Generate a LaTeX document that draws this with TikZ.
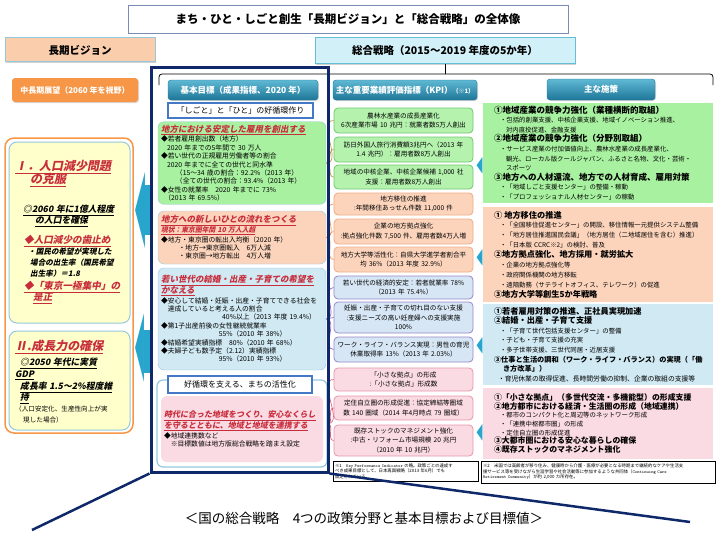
\documentclass[tikz,border=0pt]{standalone}
\usepackage{fontspec}
\setmainfont{Noto Sans CJK JP}
\newfontfamily\jpsl{Noto Sans CJK JP}[FakeSlant=0.2]
\newfontfamily\arrowglyphfont{DejaVu Sans}
\usepackage{tikz}
\usetikzlibrary{positioning, shadows}
\definecolor{navyblue}{RGB}{14,40,105}
\definecolor{titleline}{RGB}{120,140,180}
\definecolor{visionbg}{RGB}{250,206,172}
\definecolor{strategybg}{RGB}{210,240,248}
\definecolor{strategyline}{RGB}{100,190,215}
\definecolor{orangebtn}{RGB}{247,150,70}
\definecolor{yellowbg}{RGB}{255,255,204}
\definecolor{paleline}{RGB}{150,200,220}
\definecolor{tealtop}{RGB}{95,185,212}
\definecolor{tealbot}{RGB}{30,118,152}
\definecolor{subline}{RGB}{70,120,200}
\definecolor{greenbg}{RGB}{168,241,160}
\definecolor{peachbg}{RGB}{252,212,188}
\definecolor{bluebg}{RGB}{208,233,243}
\definecolor{pinkbg}{RGB}{251,219,227}
\definecolor{kpigreen}{RGB}{180,242,174}
\definecolor{kpigreenline}{RGB}{110,200,110}
\definecolor{kpipeachline}{RGB}{240,170,130}
\definecolor{kpiblue}{RGB}{214,230,244}
\definecolor{kpiblueline}{RGB}{150,135,200}
\definecolor{kpipinkline}{RGB}{230,150,170}
\definecolor{headred}{RGB}{200,45,60}
\definecolor{arrowteal}{RGB}{40,165,205}
\definecolor{fangreen}{RGB}{190,160,70}
\definecolor{fanpeach}{RGB}{240,150,90}
\definecolor{fanblue}{RGB}{140,110,190}
\definecolor{fanpink}{RGB}{225,95,125}
\newcommand{\redhead}[1]{\textcolor{headred}{\jpsl\bfseries\underline{#1}}}
\newcommand{\blackul}[1]{{\jpsl\bfseries\underline{#1}}}
\tikzset{
  titlebox/.style={rectangle, draw=titleline, fill=white, line width=0.8pt,
                   minimum width=440pt, minimum height=28pt,
                   font=\fontsize{11.5}{13}\selectfont\bfseries},
  visionbox/.style={rectangle, draw=paleline, fill=#1, line width=1pt,
                    font=\fontsize{10.5}{12}\selectfont\bfseries,
                    drop shadow={shadow xshift=1.2pt, shadow yshift=-1.2pt, fill=black!35}},
  tealbtn/.style={rectangle, rounded corners=3pt, draw=tealbot, top color=tealtop,
                  bottom color=tealbot, text=white, inner sep=1pt,
                  font=\fontsize{8.5}{10}\selectfont\bfseries,
                  drop shadow={shadow xshift=1pt, shadow yshift=-1pt, fill=black!30}},
  subbox/.style={rectangle, draw=subline, fill=white, line width=1.2pt,
                 font=\fontsize{8}{10}\selectfont, inner sep=1pt},
  yellowbox/.style={rectangle, rounded corners=8pt, draw=paleline, fill=yellowbg,
                    line width=1pt, minimum width=121pt},
  leftnote/.style={align=left, text width=113pt, inner sep=0pt, anchor=north west,
                   font=\fontsize{8}{11}\selectfont},
  areabox/.style={rectangle, rounded corners=6pt, draw=paleline, fill=#1,
                  align=left, inner sep=3pt, font=\fontsize{6.8}{8.4}\selectfont},
  kpibox/.style={rectangle, rounded corners=4pt, draw=#1, line width=0.8pt,
                 align=center, inner sep=1pt, minimum width=139pt, text width=135pt,
                 font=\fontsize{6.6}{9.4}\selectfont},
  measurebox/.style={rectangle, fill=#1, align=left, inner xsep=11pt, inner ysep=1pt,
                     text width=208pt, font=\fontsize{6.4}{9.6}\selectfont},
  notebox/.style={rectangle, draw=black, fill=white, line width=0.8pt, align=left,
                  inner sep=2pt, font=\fontsize{4.4}{5.6}\selectfont,
                  drop shadow={shadow xshift=1.2pt, shadow yshift=-1.2pt, fill=black!40}},
  pointerhead/.style={text=arrowteal, inner sep=0pt, font=\arrowglyphfont},
  pointerbody/.style={rectangle, fill=arrowteal, inner sep=0pt},
  fanline/.style={draw=#1, line width=0.7pt},
  navyframe/.style={rectangle, draw=navyblue, line width=3pt},
  tailline/.style={draw=navyblue, line width=2.5pt},
  bracketline/.style={draw=black, line width=0.8pt},
}

\begin{document}
\begin{tikzpicture}[x=1pt, y=-1pt]
  \useasboundingbox (0,0) rectangle (720,535);

  % header
  \node[titlebox] (title) at (348,19) {まち・ひと・しごと創生「長期ビジョン」と「総合戦略」の全体像};
  \node[visionbox=visionbg, minimum width=150pt, minimum height=24pt] (vision) at (80,50) {長期ビジョン};
  \node[visionbox=strategybg, draw=strategyline, minimum width=260pt, minimum height=26pt] (strategy)
    at (445,51) {総合戦略（2015〜2019 年度の5か年）};
  \coordinate (brL) at (159,85);
  \coordinate (brR) at (713,85);
  \draw[bracketline] (strategy.south) -- ++(0,10);
  \draw[bracketline, rounded corners=3pt] (brL) -- (159,74) -- (713,74) -- (brR);

  % long-term vision
  \node[rectangle, rounded corners=3pt, fill=orangebtn, text=white, minimum width=126pt,
        minimum height=24pt, font=\fontsize{8}{10}\selectfont\bfseries,
        drop shadow={shadow xshift=1pt, shadow yshift=-1pt, fill=black!30}] (midterm)
    at (75,90) {中長期展望（2060 年を視野）};
  \node[rectangle, rounded corners=9pt, draw=orangebtn, line width=1.5pt, fill=white,
        minimum width=128pt, minimum height=295pt] (visionframe) at (69,285.5) {};
  \node[yellowbox, minimum height=181pt] (overcome) at (69.5,232.5) {};
  \node[yellowbox, minimum height=99pt] (growth) at (69.5,380.5) {};
  \node[leftnote] (overcometext) at (13,160) {\lineskiplimit=-20pt\lineskip=0pt\relax
    \hspace*{2pt}{\fontsize{12}{13}\selectfont\redhead{Ⅰ．人口減少問題}}\\[2pt]
    \hspace*{17pt}{\fontsize{12}{13}\selectfont\redhead{の克服}}\\[18pt]
    \hspace*{10pt}{\fontsize{8.8}{10}\selectfont\blackul{◎2060 年に1億人程度}}\\
    \hspace*{22pt}{\fontsize{8.8}{10}\selectfont\blackul{の人口を確保}}\\[9pt]
    \hspace*{11pt}{\fontsize{9.6}{10}\selectfont\redhead{◆人口減少の歯止め}}\\
    \hspace*{15pt}{\fontsize{7.6}{10}\selectfont\jpsl\bfseries ・国民の希望が実現した}\\
    \hspace*{17pt}{\fontsize{7.6}{10}\selectfont\jpsl\bfseries 場合の出生率（国民希望}\\
    \hspace*{17pt}{\fontsize{7.6}{10}\selectfont\jpsl\bfseries 出生率）＝1.8}\\[2pt]
    \hspace*{11pt}{\fontsize{9.6}{10}\selectfont\redhead{◆「東京一極集中」の}}\\
    \hspace*{20pt}{\fontsize{9.6}{10}\selectfont\redhead{是正}}};
  \node[leftnote] (growthtext) at (13,340) {\lineskiplimit=-20pt\lineskip=0pt\relax
    \hspace*{2pt}{\fontsize{12}{13}\selectfont\redhead{Ⅱ.成長力の確保}}\\[4pt]
    \hspace*{7pt}{\fontsize{8.8}{10}\selectfont\blackul{◎2050 年代に実質}}\\[1pt]
    \hspace*{2pt}{\fontsize{8.8}{10}\selectfont\blackul{GDP}}\\[1pt]
    \hspace*{7pt}{\fontsize{8.8}{10}\selectfont\blackul{成長率 1.5〜2\%程度維}}\\
    \hspace*{7pt}{\fontsize{8.8}{10}\selectfont\blackul{持}}\\
    \hspace*{2pt}{\fontsize{6.6}{10}\selectfont （人口安定化、生産性向上が実}\\
    \hspace*{10pt}{\fontsize{6.6}{10}\selectfont 現した場合）}};

  % basic goals
  \node[tealbtn, minimum width=150pt, minimum height=20pt] (goalbtn) at (243,90) {基本目標（成果指標、2020 年）};
  \node[subbox, minimum width=145pt, minimum height=15pt] (cycle) at (240.5,110.5) {「しごと」と「ひと」の好循環作り};
  \node[areabox=greenbg, minimum width=168pt, minimum height=82pt, text width=162pt] (c2green) at (242,163) {%
    {\fontsize{8.5}{10}\selectfont\redhead{地方における安定した雇用を創出する}}\\
    ◆若者雇用創出数（地方）\\
    \hspace*{0.9em}2020 年までの5年間で 30 万人\\
    ◆若い世代の正規雇用労働者等の割合\\
    \hspace*{0.9em}2020 年までに全ての世代と同水準\\
    \hspace*{2.2em}（15〜34 歳の割合：92.2\%（2013 年）\\
    \hspace*{2.2em}（全ての世代の割合：93.4\%（2013 年）\\
    ◆女性の就業率　2020 年までに 73\%\\
    \hspace*{0.5em}（2013 年 69.5\%）};
  \node[areabox=peachbg, minimum width=168pt, minimum height=53pt, text width=162pt] (c2peach) at (242,237.5) {%
    {\fontsize{8.5}{10}\selectfont\redhead{地方への新しいひとの流れをつくる}}\\
    \textcolor{headred}{\jpsl\bfseries\underline{現状：東京圏年間 10 万人入超}}\\
    ◆地方・東京圏の転出入均衡（2020 年）\\
    \hspace*{2.6em}・地方→東京圏転入　6万人減\\
    \hspace*{2.6em}・東京圏→地方転出　4万人増};
  \node[areabox=bluebg, minimum width=168pt, minimum height=102pt, text width=162pt] (c2blue) at (242,319) {%
    {\fontsize{8.5}{10}\selectfont\redhead{若い世代の結婚・出産・子育ての希望を}}\\
    {\fontsize{8.5}{10}\selectfont\redhead{かなえる}}\\
    ◆安心して結婚・妊娠・出産・子育てできる社会を\\
    \hspace*{1em}達成していると考える人の割合\\
    \hspace*{9em}40\%以上（2013 年度 19.4\%）\\
    ◆第1子出産前後の女性継続就業率\\
    \hspace*{8.5em}55\%（2010 年 38\%）\\
    ◆結婚希望実績指標　80\%（2010 年 68\%）\\
    ◆夫婦子ども数予定（2.12）実績指標\\
    \hspace*{8.5em}95\%（2010 年 93\%）};
  \node[rectangle, rounded corners=6pt, draw=paleline, line width=1.2pt, fill=white,
        minimum width=170pt, minimum height=87pt] (cityframe) at (242,423.5) {};
  \node[areabox=pinkbg, draw=none, minimum width=162pt, minimum height=66pt, text width=156pt] (c2pink) at (242,429) {%
    {\fontsize{8}{10}\selectfont\redhead{時代に合った地域をつくり、安心なくらし}}\\
    {\fontsize{8}{10}\selectfont\redhead{を守るとともに、地域と地域を連携する}}\\
    ◆地域連携数など\\
    \hspace*{1em}※目標数値は地方版総合戦略を踏まえ設定};
  \node[subbox, minimum width=144pt, minimum height=17pt] (citytitle) at (240,384.5) {好循環を支える、まちの活性化};

  % KPI
  \node[tealbtn, minimum width=144pt, minimum height=20pt] (kpibtn) at (405,90)
    {主な重要業績評価指標（KPI）{\fontsize{6}{7}\selectfont（※1）}};
  \node[kpibox=kpigreenline, fill=kpigreen, minimum height=25pt] (kpiG1) at (403.5,120.5)
    {農林水産業の成長産業化\\6次産業市場 10 兆円：就業者数5万人創出};
  \node[kpibox=kpigreenline, fill=kpigreen, minimum height=25pt] (kpiG2) at (403.5,149.5)
    {訪日外国人旅行消費額3兆円へ（2013 年\\1.4 兆円）：雇用者数8万人創出};
  \node[kpibox=kpigreenline, fill=kpigreen, minimum height=24pt] (kpiG3) at (403.5,177)
    {地域の中核企業、中核企業候補 1,000 社\\支援：雇用者数8万人創出};
  \node[kpibox=kpipeachline, fill=peachbg, minimum height=22pt] (kpiP1) at (403.5,204)
    {地方移住の推進\\:年間移住あっせん件数 11,000 件};
  \node[kpibox=kpipeachline, fill=peachbg, minimum height=25pt] (kpiP2) at (403.5,231.5)
    {企業の地方拠点強化\\:拠点強化件数 7,500 件、雇用者数4万人増};
  \node[kpibox=kpipeachline, fill=peachbg, minimum height=25pt] (kpiP3) at (403.5,259.5)
    {地方大学等活性化：自県大学進学者割合平\\均 36\%（2013 年度 32.9\%）};
  \node[kpibox=kpiblueline, fill=kpiblue, minimum height=23pt] (kpiB1) at (403.5,287.5)
    {若い世代の経済的安定：若者就業率 78\%\\（2013 年 75.4\%）};
  \node[kpibox=kpiblueline, fill=kpiblue, minimum height=31pt] (kpiB2) at (403.5,317.5)
    {妊娠・出産・子育ての切れ目のない支援\\:支援ニーズの高い妊産婦への支援実施\\100\%};
  \node[kpibox=kpiblueline, fill=kpiblue, minimum height=25pt] (kpiB3) at (403.5,349.5)
    {ワーク・ライフ・バランス実現：男性の育児\\休業取得率 13\%（2013 年 2.03\%）};
  \node[kpibox=kpipinkline, fill=pinkbg, minimum height=23pt] (kpiK1) at (403.5,379.5)
    {「小さな拠点」の形成\\:「小さな拠点」形成数};
  \node[kpibox=kpipinkline, fill=pinkbg, minimum height=24pt] (kpiK2) at (403.5,408)
    {定住自立圏の形成促進：協定締結等圏域\\数 140 圏域（2014 年4月時点 79 圏域）};
  \node[kpibox=kpipinkline, fill=pinkbg, minimum height=31pt] (kpiK3) at (403.5,440.5)
    {既存ストックのマネジメント強化\\:中古・リフォーム市場規模 20 兆円\\（2010 年 10 兆円）};
  \node[notebox, minimum width=145pt, minimum height=20pt, text width=141pt] (note1) at (405.5,471)
    {※1　{\ttfamily Key Performance Indicator} の略。政策ごとの達成す\\べき成果目標として、日本再興戦略（2013 年6月）でも\\設定されている。};
  \foreach \k in {kpiG1,kpiG2,kpiG3} \draw[fanline=fangreen] (c2green.east) to[out=0, in=180] (\k.west);
  \foreach \k in {kpiP1,kpiP2,kpiP3} \draw[fanline=fanpeach] (c2peach.east) to[out=0, in=180] (\k.west);
  \foreach \k in {kpiB1,kpiB2,kpiB3} \draw[fanline=fanblue] (c2blue.east) to[out=0, in=180] (\k.west);
  \foreach \k in {kpiK1,kpiK2,kpiK3} \draw[fanline=fanpink] (cityframe.east) to[out=0, in=180] (\k.west);

  % main measures
  \node[tealbtn, minimum width=108pt, minimum height=21pt] (measurebtn) at (601,89.5) {主な施策};
  \node[measurebox=greenbg, minimum height=100pt] (mgreen) at (598,153) {%
    {\fontsize{8.5}{10}\selectfont\bfseries ①地域産業の競争力強化（業種横断的取組）}\\
    \hspace*{6pt}・包括的創業支援、中核企業支援、地域イノベーション推進、\\
    \hspace*{12pt}対内直投促進、金融支援\\
    {\fontsize{8.5}{10}\selectfont\bfseries ②地域産業の競争力強化（分野別取組）}\\
    \hspace*{6pt}・サービス産業の付加価値向上、農林水産業の成長産業化、\\
    \hspace*{12pt}観光、ローカル版クールジャパン、ふるさと名物、文化・芸術・\\
    \hspace*{12pt}スポーツ\\
    {\fontsize{8.5}{10}\selectfont\bfseries ③地方への人材還流、地方での人材育成、雇用対策}\\
    \hspace*{6pt}・「地域しごと支援センター」の整備・稼動\\
    \hspace*{6pt}・「プロフェッショナル人材センター」の稼動};
  \node[measurebox=peachbg, minimum height=95pt, font=\fontsize{6.4}{9.9}\selectfont] (mpeach) at (598,254.5) {%
    {\fontsize{8.2}{10}\selectfont\bfseries ① 地方移住の推進}\\
    \hspace*{6pt}・「全国移住促進センター」の開設、移住情報一元提供システム整備\\
    \hspace*{6pt}・「地方居住推進国民会議」（地方居住（二地域居住を含む）推進）\\
    \hspace*{6pt}・「日本版 CCRC※2」の検討、普及\\
    {\fontsize{8.2}{10}\selectfont\bfseries ②地方拠点強化、地方採用・就労拡大}\\
    \hspace*{6pt}・企業の地方拠点強化等\\
    \hspace*{6pt}・政府関係機関の地方移転\\
    \hspace*{6pt}・遠隔勤務（サテライトオフィス、テレワーク）の促進\\
    {\fontsize{8.2}{10}\selectfont\bfseries ③地方大学等創生5か年戦略}};
  \node[measurebox=bluebg, minimum height=81pt, font=\fontsize{6.4}{9.6}\selectfont] (mblue) at (598,344.5) {%
    {\fontsize{8.2}{10}\selectfont\bfseries ①若者雇用対策の推進、正社員実現加速}\\
    {\fontsize{8.2}{10}\selectfont\bfseries ②結婚・出産・子育て支援}\\
    \hspace*{6pt}・「子育て世代包括支援センター」の整備\\
    \hspace*{6pt}・子ども・子育て支援の充実\\
    \hspace*{6pt}・多子世帯支援、三世代同居・近居支援\\
    {\fontsize{7.2}{10}\selectfont\bfseries ③仕事と生活の調和（ワーク・ライフ・バランス）の実現（「働}\\
    \hspace*{9pt}{\fontsize{7.2}{10}\selectfont\bfseries き方改革」）}\\
    \hspace*{4pt}{\fontsize{6.8}{10}\selectfont ・育児休業の取得促進、長時間労働の抑制、企業の取組の支援等}};
  \node[measurebox=pinkbg, minimum height=71pt, font=\fontsize{6.4}{8.6}\selectfont] (mpink) at (598,423.5) {%
    {\fontsize{7.9}{9}\selectfont\bfseries ①「小さな拠点」（多世代交流・多機能型）の形成支援}\\
    {\fontsize{7.9}{9}\selectfont\bfseries ②地方都市における経済・生活圏の形成（地域連携）}\\
    \hspace*{6pt}・都市のコンパクト化と周辺等のネットワーク形成\\
    \hspace*{6pt}・「連携中枢都市圏」の形成\\
    \hspace*{6pt}・定住自立圏の形成促進\\
    {\fontsize{7.9}{9}\selectfont\bfseries ③大都市圏における安心な暮らしの確保}\\
    {\fontsize{7.9}{9}\selectfont\bfseries ④既存ストックのマネジメント強化}};
  \node[notebox, minimum width=234pt, minimum height=22pt, text width=230pt] (note2) at (598,472)
    {※2　米国では高齢者が移り住み、健康時から介護・医療が必要となる時期まで継続的なケアや生活支\\
     援サービス等を受けながら生涯学習や社会活動等に参加するような共同体（{\ttfamily Continuing Care}\\
     {\ttfamily Retirement Community}）が約 2,000 カ所存在。};

  % arrows towards the vision and the KPI
  \node[pointerbody, minimum width=8pt, minimum height=50pt] (jobbody) at (147.5,210) {};
  \node[pointerbody, minimum width=8pt, minimum height=43pt] (citybody) at (147.5,351.5) {};
  \node[pointerhead] (jobhead) at (140,211) {\scalebox{0.13}[1]{\fontsize{100}{100}\selectfont ◀}};
  \node[pointerhead] (cityhead) at (140,348.5) {\scalebox{0.13}[1]{\fontsize{90}{90}\selectfont ◀}};
  \foreach \yy [count=\i] in {166,258,346,433}
    \node[pointerhead] (kpihead\i) at (479.5,\yy) {\scalebox{0.35}[1]{\fontsize{22}{22}\selectfont ◀}};
  \node[navyframe, minimum width=177pt, minimum height=404pt] (goalframe) at (239.5,270) {};

  % zoom lines and caption
  \coordinate (tailL) at (32,530);
  \coordinate (tailR) at (690,522);
  \draw[tailline] (goalframe.south west) -- (tailL);
  \draw[tailline] (goalframe.south east) -- (tailR);
  \node[font=\fontsize{13.5}{15}\selectfont] (caption) at (364,518) {＜国の総合戦略　4つの政策分野と基本目標および目標値＞};
\end{tikzpicture}
\end{document}
